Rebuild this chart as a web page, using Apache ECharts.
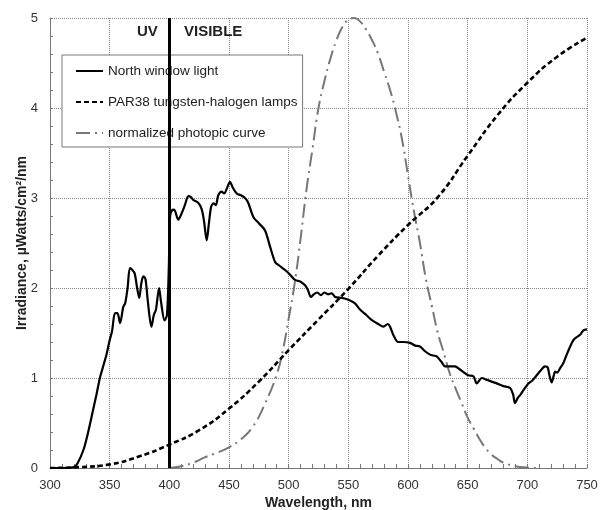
<!DOCTYPE html>
<html>
    <head>
        <meta charset="UTF-8">
        <script src="https://cdn.jsdelivr.net/npm/echarts@6/dist/echarts.min.js"></script>
        <style>
            html, body { margin: 0; padding: 0; background: #fff; }
            #main { width: 601px; height: 510px; }
        </style>
    </head>
    <body>
        <div id="main"></div>
    </body>
    <script>
        // north window light (solid)
        var windowNm = [300, 310, 320, 323, 328, 332, 336, 339, 342, 345, 347.5, 350, 352, 354.5, 356.5, 358.7, 361.4, 363, 365, 367,
            369, 371, 373, 374.8, 376.5, 378.2, 380, 382, 385, 387, 388.8, 391.4, 393, 396, 398, 399.5, 400.6, 402, 404, 407.5,
            410, 413, 416, 418, 420, 424, 427, 429, 431.3, 433, 435, 437, 439, 441, 443.9, 446, 448, 450.9, 453, 456.5,
            460, 463.4, 466, 470.4, 475, 480.2, 484.4, 488.6, 492, 497, 501, 505.3, 510, 513.7, 516, 518.7, 521, 524, 527, 530,
            533, 536, 539, 544.5, 550, 555.6, 559.8, 565, 570, 575, 579.4, 583, 585, 588, 591.9, 596, 601.7, 606, 610, 614,
            618.5, 621, 624, 628, 631, 635, 639.4, 643, 647, 650.5, 654.8, 657.6, 661.8, 666, 670, 674.3, 680, 685.5, 688, 689.7,
            692, 694, 697, 700.9, 704, 707.9, 711, 714.8, 717, 718.5, 720.4, 722, 723.3, 725, 727.5, 730, 733, 735.9, 738.6, 741,
            744.2, 747, 750];
        var windowIrr = [0, 0, 0.01, 0.05, 0.2, 0.4, 0.64, 0.82, 1.01, 1.15, 1.27, 1.42, 1.52, 1.72, 1.72, 1.61, 1.79, 1.83, 2.0, 2.22,
            2.2, 2.16, 2.0, 1.89, 2.05, 2.13, 2.1, 1.85, 1.57, 1.7, 1.76, 2.0, 1.85, 1.64, 1.7, 2.2, 2.79, 2.86, 2.87, 2.76,
            2.82, 2.92, 3.02, 3.01, 2.98, 2.95, 2.88, 2.75, 2.53, 2.7, 2.9, 2.94, 2.92, 3.03, 3.07, 3.05, 3.1, 3.18, 3.12, 3.05,
            3.03, 3.0, 2.95, 2.79, 2.72, 2.64, 2.46, 2.29, 2.25, 2.2, 2.15, 2.09, 2.07, 2.03, 1.98, 1.9, 1.93, 1.95, 1.92, 1.95,
            1.93, 1.94, 1.9, 1.89, 1.87, 1.83, 1.76, 1.7, 1.64, 1.6, 1.57, 1.6, 1.57, 1.47, 1.4, 1.4, 1.39, 1.36, 1.35, 1.3,
            1.26, 1.25, 1.24, 1.18, 1.13, 1.13, 1.13, 1.1, 1.06, 1.03, 1.02, 0.94, 1.0, 0.98, 0.96, 0.94, 0.91, 0.89, 0.82, 0.72,
            0.78, 0.81, 0.87, 0.94, 0.97, 1.03, 1.08, 1.13, 1.12, 1.03, 0.95, 1.02, 1.07, 1.06, 1.11, 1.16, 1.26, 1.35, 1.42, 1.45,
            1.48, 1.53, 1.54];

        // PAR38 tungsten-halogen lamps (dashed)
        var lampNm = [300, 325, 350, 375, 400, 425, 450, 475, 500, 525, 550, 575, 600, 625, 650, 675, 700, 725, 750];
        var lampIrr = [0, 0.01, 0.04, 0.13, 0.26, 0.42, 0.66, 0.96, 1.31, 1.65, 1.99, 2.36, 2.7, 3.01, 3.47, 3.92, 4.28, 4.57, 4.78];

        // normalized photopic curve (dash-dot)
        var photopicNm = [400, 410, 420, 430, 440, 450, 460, 470, 480, 490, 495, 500, 505, 510, 515, 520, 525, 530, 535, 540,
            545, 550, 555, 560, 565, 570, 575, 580, 585, 590, 595, 600, 605, 610, 615, 620, 625, 630, 635, 640,
            645, 650, 655, 660, 665, 670, 675, 680, 690, 700, 710];
        var photopicVal = [0, 0.02, 0.06, 0.12, 0.17, 0.23, 0.32, 0.46, 0.71, 1.04, 1.3, 1.66, 2.05, 2.55, 3.1, 3.55, 4.0, 4.3, 4.55, 4.75,
            4.9, 4.98, 5.0, 4.96, 4.87, 4.75, 4.6, 4.4, 4.2, 3.95, 3.65, 3.25, 2.85, 2.5, 2.1, 1.8, 1.5, 1.28, 1.05, 0.88,
            0.72, 0.56, 0.44, 0.32, 0.22, 0.15, 0.1, 0.06, 0.02, 0.005, 0];

        var seriesNames = ['North window light', 'PAR38 tungsten-halogen lamps', 'normalized photopic curve'];
        var regionLabels = ['UV', 'VISIBLE'];
        var boundaryNm = 400;

        function zip(xs, ys) {
            var out = [];
            for (var i = 0; i < xs.length; i++) {
                out.push([xs[i], ys[i]]);
            }
            return out;
        }

        var font = '"Liberation Sans", Arial, sans-serif';
        var myChart = echarts.init(document.getElementById('main'), null, { renderer: 'canvas' });

        var option = {
            backgroundColor: '#fff',
            animation: false,
            textStyle: { fontFamily: font },
            // fixed plot box, don't let v6 shrink it to fit the axis names
            grid: { left: 50, right: 14, top: 18, bottom: 42, outerBoundsMode: 'none', containLabel: false },
            legend: {
                orient: 'vertical',
                left: 62,
                top: 55,
                itemWidth: 27,
                itemHeight: 14,
                itemGap: 17,
                padding: [9, 5, 7, 13],
                backgroundColor: '#fff',
                borderColor: '#777',
                borderWidth: 1,
                borderRadius: 0,
                itemStyle: { opacity: 0 },   // line only, no marker
                textStyle: { fontFamily: font, fontSize: 13.5, color: '#222' },
                data: seriesNames
            },
            graphic: [
                {
                    type: 'text', left: 137, top: 24, z: 10,
                    style: { text: regionLabels[0], font: 'bold 15px ' + font, fill: '#222' }
                },
                {
                    type: 'text', left: 184, top: 24, z: 10,
                    style: { text: regionLabels[1], font: 'bold 15px ' + font, fill: '#222' }
                }
            ],
            xAxis: {
                type: 'value',
                min: 300,
                max: 750,
                interval: 50,
                name: 'Wavelength, nm',
                nameLocation: 'middle',
                nameGap: 28,
                nameMoveOverlap: false,
                nameTextStyle: { fontFamily: font, fontSize: 14, fontWeight: 'bold', color: '#222' },
                axisLine: { show: true, lineStyle: { color: '#777', width: 1 } },
                axisTick: { show: true, inside: true, length: 4, lineStyle: { color: '#777' } },
                minorTick: { show: true, splitNumber: 5, length: 4, lineStyle: { color: '#777' } },
                axisLabel: { fontFamily: font, fontSize: 13, color: '#333', margin: 11 },
                splitLine: { show: true, lineStyle: { color: '#888', width: 1, type: [1, 1] } }
            },
            yAxis: {
                type: 'value',
                min: 0,
                max: 5,
                interval: 1,
                name: 'Irradiance, µWatts/cm²/nm',
                nameLocation: 'middle',
                nameGap: 21,
                nameMoveOverlap: false,
                nameTextStyle: { fontFamily: font, fontSize: 14, fontWeight: 'bold', color: '#222' },
                axisLine: { show: true, lineStyle: { color: '#777', width: 1 } },
                axisTick: { show: true, inside: true, length: 3, lineStyle: { color: '#777' } },
                minorTick: { show: true, splitNumber: 5, length: 3, lineStyle: { color: '#777' } },
                axisLabel: { fontFamily: font, fontSize: 13, color: '#333', margin: 12 },
                splitLine: { show: true, lineStyle: { color: '#888', width: 1, type: [1, 1] } }
            },
            series: [
                {
                    name: seriesNames[0],
                    type: 'line',
                    data: zip(windowNm, windowIrr),
                    symbol: 'none',
                    smooth: 0.3,
                    z: 4,
                    lineStyle: { color: '#000', width: 2.2, type: 'solid' },
                    itemStyle: { color: '#000' },
                    markLine: {
                        silent: true,
                        symbol: 'none',
                        label: { show: false },
                        lineStyle: { color: '#000', width: 3, type: 'solid' },
                        data: [{ xAxis: boundaryNm }]
                    }
                },
                {
                    name: seriesNames[1],
                    type: 'line',
                    data: zip(lampNm, lampIrr),
                    symbol: 'none',
                    smooth: true,
                    z: 3,
                    lineStyle: { color: '#000', width: 2.6, type: [5, 3] },
                    itemStyle: { color: '#000' }
                },
                {
                    name: seriesNames[2],
                    type: 'line',
                    data: zip(photopicNm, photopicVal),
                    symbol: 'none',
                    smooth: true,
                    z: 2,
                    lineStyle: { color: '#777', width: 2, type: [14, 5, 2, 5] },
                    itemStyle: { color: '#777' }
                }
            ]
        };
        myChart.setOption(option, true);
    </script>
</html>
